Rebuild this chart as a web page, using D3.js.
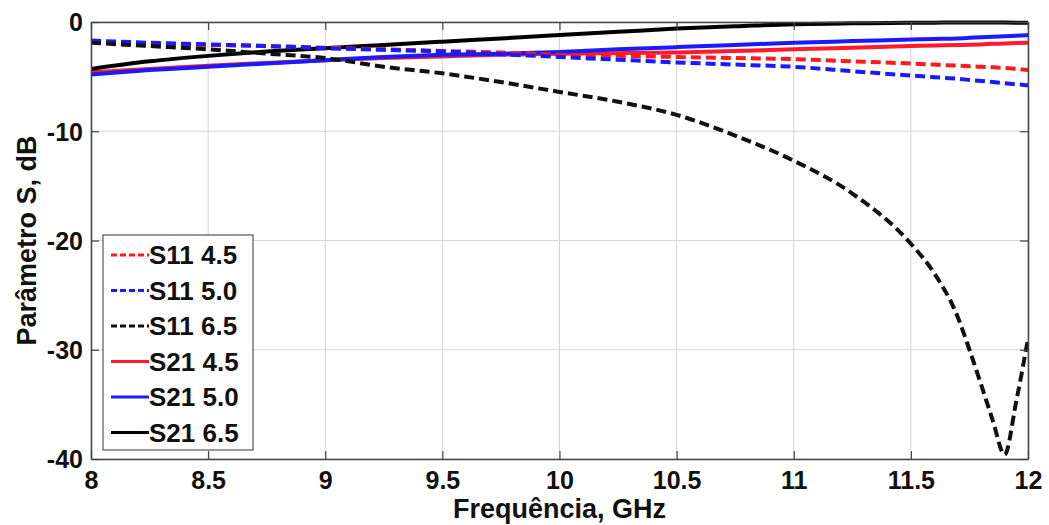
<!DOCTYPE html>
<html>
<head>
<meta charset="utf-8">
<script src="https://cdn.jsdelivr.net/npm/d3@7/dist/d3.min.js"></script>
<style>
  html, body { margin: 0; padding: 0; background: #fff; }
  svg { display: block; font-family: "Liberation Sans", Arial, sans-serif; }
</style>
</head>
<body>
<svg id="chart" width="1049" height="525"></svg>
<script>
// Frequência (GHz)
const freq = [8, 8.25, 8.5, 8.75, 9, 9.25, 9.5, 9.75, 10, 10.25, 10.5, 10.75, 11, 11.25, 11.5, 11.6, 11.7, 11.75, 11.8, 11.85, 11.9, 11.95, 12];

const s11_45 = [-1.8, -2.0, -2.1, -2.2, -2.35, -2.5, -2.65, -2.8, -3.0, -3.1, -3.2, -3.3, -3.4, -3.6, -3.8, -3.9, -4.0, -4.05, -4.1, -4.15, -4.2, -4.3, -4.4];
const s11_50 = [-1.7, -1.9, -2.05, -2.2, -2.4, -2.55, -2.7, -2.95, -3.2, -3.45, -3.7, -3.9, -4.1, -4.5, -4.9, -5.05, -5.2, -5.3, -5.4, -5.5, -5.6, -5.7, -5.8];
const s11_65 = [-1.9, -2.2, -2.5, -2.9, -3.3, -4.1, -4.7, -5.5, -6.4, -7.3, -8.5, -10.4, -12.7, -15.7, -20.3, -23.0, -27.0, -30.0, -33.2, -36.5, -39.6, -34.7, -29.0];
const s21_45 = [-4.6, -4.3, -4.0, -3.75, -3.5, -3.3, -3.15, -3.0, -2.9, -2.85, -2.8, -2.65, -2.5, -2.35, -2.2, -2.15, -2.1, -2.08, -2.05, -2.0, -1.97, -1.93, -1.9];
const s21_50 = [-4.8, -4.4, -4.1, -3.8, -3.5, -3.2, -3.0, -2.9, -2.75, -2.5, -2.3, -2.1, -1.9, -1.75, -1.6, -1.55, -1.5, -1.45, -1.4, -1.35, -1.3, -1.25, -1.2];
const s21_65 = [-4.3, -3.6, -3.1, -2.7, -2.4, -2.1, -1.8, -1.5, -1.2, -0.9, -0.6, -0.4, -0.2, -0.12, -0.08, -0.06, -0.05, -0.05, -0.05, -0.05, -0.05, -0.06, -0.08];

const seriesNames = ["S11 4.5", "S11 5.0", "S11 6.5", "S21 4.5", "S21 5.0", "S21 6.5"];
const seriesValues = [s11_45, s11_50, s11_65, s21_45, s21_50, s21_65];
const seriesColors = ["#ff1a1a", "#1a1aff", "#111", "#ff1a2e", "#1a1aff", "#000"];
const seriesDashed = [true, true, true, false, false, false];

const xTicks = [8, 8.5, 9, 9.5, 10, 10.5, 11, 11.5, 12];
const yTicks = [0, -10, -20, -30, -40];

const svg = d3.select("#chart");
const margin = { left: 91, top: 22, right: 21, bottom: 66 };
const W = 1049, H = 525;

const x = d3.scaleLinear().domain([8, 12]).range([margin.left, W - margin.right]);
const y = d3.scaleLinear().domain([-40, 0]).range([H - margin.bottom, margin.top]);

// grade
const gGrid = svg.append("g").attr("class", "grid");
xTicks.forEach(t => {
  gGrid.append("line")
    .attr("x1", x(t)).attr("x2", x(t))
    .attr("y1", y(0)).attr("y2", y(-40))
    .attr("stroke", "#d4d4d4").attr("stroke-width", 1);
});
yTicks.forEach(t => {
  gGrid.append("line")
    .attr("x1", x(8)).attr("x2", x(12))
    .attr("y1", y(t)).attr("y2", y(t))
    .attr("stroke", "#d4d4d4").attr("stroke-width", 1);
});

// curvas
svg.append("clipPath").attr("id", "plot-clip")
  .append("rect")
  .attr("x", x(8)).attr("y", y(0) - 4)
  .attr("width", x(12) - x(8)).attr("height", y(-40) - y(0) + 4);

const line = d3.line()
  .x((d, i) => x(freq[i]))
  .y(d => y(d))
  .curve(d3.curveMonotoneX);

const gLines = svg.append("g").attr("clip-path", "url(#plot-clip)");
// desenhar as S21 primeiro, S11 por cima
const order = [3, 4, 5, 0, 1, 2];
order.forEach(k => {
  gLines.append("path")
    .datum(seriesValues[k])
    .attr("d", line)
    .attr("fill", "none")
    .attr("stroke", seriesColors[k])
    .attr("stroke-width", 4)
    .attr("stroke-dasharray", seriesDashed[k] ? "10,5" : null);
});

// eixos (caixa com marcas para dentro)
const tickFont = 25;
const fmt = d => String(d);
const axB = svg.append("g").attr("transform", `translate(0,${y(-40)})`)
  .call(d3.axisBottom(x).tickValues(xTicks).tickFormat(fmt).tickSizeInner(-8).tickSizeOuter(0).tickPadding(12));
const axT = svg.append("g").attr("transform", `translate(0,${y(0)})`)
  .call(d3.axisTop(x).tickValues(xTicks).tickFormat("").tickSizeInner(-8).tickSizeOuter(0));
const axL = svg.append("g").attr("transform", `translate(${x(8)},0)`)
  .call(d3.axisLeft(y).tickValues(yTicks).tickFormat(fmt).tickSizeInner(-8).tickSizeOuter(0).tickPadding(8));
const axR = svg.append("g").attr("transform", `translate(${x(12)},0)`)
  .call(d3.axisRight(y).tickValues(yTicks).tickFormat("").tickSizeInner(-8).tickSizeOuter(0));

[axB, axT, axL, axR].forEach(a => {
  a.select(".domain").attr("stroke", "#444").attr("stroke-width", 1.5);
  a.selectAll(".tick line").attr("stroke", "#444").attr("stroke-width", 1.2);
  a.selectAll("text")
    .attr("font-size", tickFont)
    .attr("font-weight", "bold")
    .attr("font-family", "'Liberation Sans', Arial, sans-serif")
    .attr("fill", "#111");
});
axB.selectAll("text").attr("dy", "0.71em");
axL.selectAll("text").attr("dy", "0.35em");

// rótulos dos eixos
svg.append("text")
  .attr("x", (x(8) + x(12)) / 2).attr("y", 518)
  .attr("text-anchor", "middle")
  .attr("font-size", 27).attr("font-weight", "bold").attr("fill", "#111")
  .text("Frequência, GHz");

svg.append("text")
  .attr("transform", `translate(36,${(y(0) + y(-40)) / 2}) rotate(-90)`)
  .attr("text-anchor", "middle")
  .attr("font-size", 27).attr("font-weight", "bold").attr("fill", "#111")
  .text("Parâmetro S, dB");

// legenda
const leg = svg.append("g").attr("transform", "translate(103,235)");
leg.append("rect")
  .attr("width", 150).attr("height", 215)
  .attr("fill", "#fff").attr("stroke", "#555").attr("stroke-width", 1.2);

seriesNames.forEach((name, i) => {
  const cy = 20 + i * 35.5;
  leg.append("line")
    .attr("x1", 8).attr("x2", 46)
    .attr("y1", cy).attr("y2", cy)
    .attr("stroke", seriesColors[i])
    .attr("stroke-width", 3)
    .attr("stroke-dasharray", seriesDashed[i] ? "6,3" : null);
  leg.append("text")
    .attr("x", 46).attr("y", cy)
    .attr("dy", "0.36em")
    .attr("font-size", 26).attr("font-weight", "bold").attr("fill", "#111")
    .text(name);
});
</script>
</body>
</html>
